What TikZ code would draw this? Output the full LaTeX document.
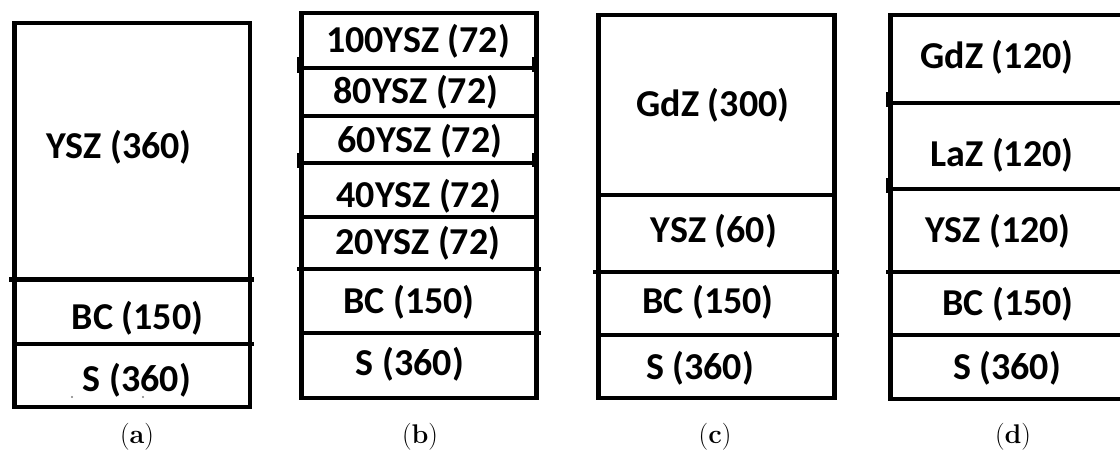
\documentclass[tikz,border=0pt]{standalone}
\usepackage{fontspec}
\newfontfamily\labfont{Carlito}
\begin{document}
\begin{tikzpicture}[x=1pt,y=-1pt,
  lay/.style={line width=4.8pt, line join=miter},
  notch/.style={fill=black},
  lbl/.style={font=\labfont\bfseries\fontsize{38}{40}\selectfont, inner sep=0pt},
  captext/.style={font=\fontsize{27}{30}\selectfont, inner sep=0pt}]
\clip (0,0) rectangle (1120,454);
\fill[white] (0,0) rectangle (1120,454);

% ---------- (a)
\draw[lay] (14.5,23) rectangle (250,407);
\draw[lay] (9,279.5) -- (254,279.5);
\draw[lay] (14.5,344) -- (254,344);
\node[lbl] (aysz) at (119,147) {YSZ (360)};
\node[lbl] (abc) at (137.5,318) {BC (150)};
\node[lbl] (as) at (137,380) {S (360)};
\fill[gray] (72,397) circle (1.1);
\fill[gray] (143,397) circle (1.1);
\node[captext] (capa) at (137,437) {(\textbf{a})};

% ---------- (b)
\draw[lay] (301.5,13) rectangle (536.5,398);
\draw[lay] (297,68) -- (536.5,68);
\draw[lay] (301.5,116) -- (536.5,116);
\draw[lay] (297,163) -- (536.5,163);
\draw[lay] (301.5,217) -- (536.5,217);
\draw[lay] (297,269) -- (541,269);
\draw[lay] (301.5,333) -- (541,333);
\fill[notch] (297,57) rectangle (301.5,73);
\fill[notch] (297,153) rectangle (301.5,168);
\fill[notch] (532,57) rectangle (536.5,72);
\fill[notch] (532,153) rectangle (536.5,167);
\node[lbl] (b100) at (418,41) {100YSZ (72)};
\node[lbl] (b80) at (416,92) {80YSZ (72)};
\node[lbl] (b60) at (420,141) {60YSZ (72)};
\node[lbl] (b40) at (419,196) {40YSZ (72)};
\node[lbl] (b20) at (418,243) {20YSZ (72)};
\node[lbl] (bbc) at (409,302) {BC (150)};
\node[lbl] (bs) at (410,364) {S (360)};
\node[captext] (capb) at (420,437) {(\textbf{b})};

% ---------- (c)
\draw[lay] (598.7,15) rectangle (834.3,398);
\draw[lay] (598.7,195) -- (834.3,195);
\draw[lay] (593,272) -- (839,272);
\draw[lay] (598.7,335) -- (839,335);
\node[lbl] (cgdz) at (713,105) {GdZ (300)};
\node[lbl] (cysz) at (714,231) {YSZ (60)};
\node[lbl] (cbc) at (708,302) {BC (150)};
\node[lbl] (cs) at (700,368) {S (360)};
\node[captext] (capc) at (715,437) {(\textbf{c})};

% ---------- (d)
\draw[lay] (1126,15) -- (890.5,15) -- (890.5,399) -- (1126,399);
\draw[lay] (886,103) -- (1126,103);
\draw[lay] (886,189) -- (1126,189);
\draw[lay] (886,272) -- (1126,272);
\draw[lay] (890.5,335) -- (1126,335);
\fill[notch] (886,92) rectangle (890.5,107);
\fill[notch] (886,178) rectangle (890.5,193);
\node[lbl] (dgdz) at (997,57) {GdZ (120)};
\node[lbl] (dlaz) at (1002,155) {LaZ (120)};
\node[lbl] (dysz) at (998,231) {YSZ (120)};
\node[lbl] (dbc) at (1008,304) {BC (150)};
\node[lbl] (ds) at (1007,368) {S (360)};
\node[captext] (capd) at (1013,437) {(\textbf{d})};
\end{tikzpicture}
\end{document}
